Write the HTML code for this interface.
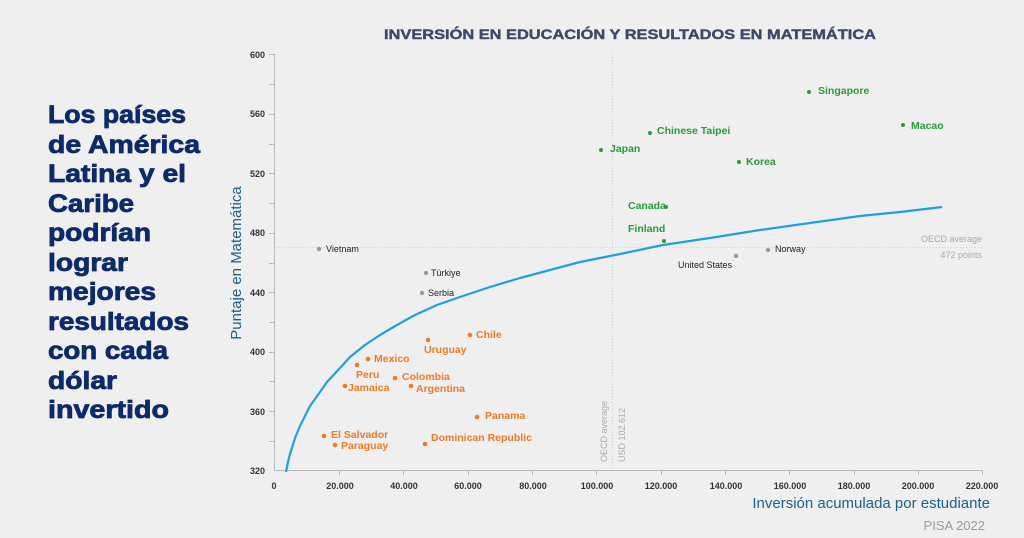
<!DOCTYPE html>
<html><head><meta charset="utf-8"><style>
html,body{margin:0;padding:0;background:#efefef;}
svg{display:block;font-family:"Liberation Sans",sans-serif;}
</style></head><body>
<svg width="1024" height="538" viewBox="0 0 1024 538" xmlns="http://www.w3.org/2000/svg">
<rect width="1024" height="538" fill="#efefef"/>
<g fill="#0d2a6b" font-weight="bold" font-size="25" stroke="#0d2a6b" stroke-width="0.8">
<text x="48" y="123" textLength="138" lengthAdjust="spacingAndGlyphs">Los países</text>
<text x="48" y="153" textLength="152" lengthAdjust="spacingAndGlyphs">de América</text>
<text x="48" y="182" textLength="138" lengthAdjust="spacingAndGlyphs">Latina y el</text>
<text x="48" y="212" textLength="86" lengthAdjust="spacingAndGlyphs">Caribe</text>
<text x="48" y="241" textLength="103" lengthAdjust="spacingAndGlyphs">podrían</text>
<text x="48" y="271" textLength="80" lengthAdjust="spacingAndGlyphs">lograr</text>
<text x="48" y="300" textLength="108" lengthAdjust="spacingAndGlyphs">mejores</text>
<text x="48" y="330" textLength="141" lengthAdjust="spacingAndGlyphs">resultados</text>
<text x="48" y="359" textLength="120" lengthAdjust="spacingAndGlyphs">con cada</text>
<text x="48" y="389" textLength="69" lengthAdjust="spacingAndGlyphs">dólar</text>
<text x="48" y="418" textLength="121" lengthAdjust="spacingAndGlyphs">invertido</text>
</g>
<text x="630" y="39" text-anchor="middle" font-size="14" font-weight="bold" fill="#3d4a66" stroke="#3d4a66" stroke-width="0.4" textLength="492" lengthAdjust="spacingAndGlyphs">INVERSIÓN EN EDUCACIÓN Y RESULTADOS EN MATEMÁTICA</text>
<text transform="translate(241,263) rotate(-90)" text-anchor="middle" font-size="15" fill="#1a6088">Puntaje en Matemática</text>
<text x="990" y="508" text-anchor="end" font-size="15" fill="#1a6088">Inversión acumulada por estudiante</text>
<text x="985" y="530" text-anchor="end" font-size="13" fill="#9a9a9a">PISA 2022</text>
<g stroke="#b8b8b8" stroke-width="1">
<line x1="274.5" y1="54" x2="274.5" y2="471"/>
<line x1="274" y1="470.5" x2="982" y2="470.5"/>
<line x1="269" y1="54.5" x2="275" y2="54.5"/><line x1="269" y1="84.5" x2="275" y2="84.5"/>
<line x1="269" y1="114.5" x2="275" y2="114.5"/><line x1="269" y1="144.5" x2="275" y2="144.5"/>
<line x1="269" y1="173.5" x2="275" y2="173.5"/><line x1="269" y1="203.5" x2="275" y2="203.5"/>
<line x1="269" y1="233.5" x2="275" y2="233.5"/><line x1="269" y1="263.5" x2="275" y2="263.5"/>
<line x1="269" y1="292.5" x2="275" y2="292.5"/><line x1="269" y1="322.5" x2="275" y2="322.5"/>
<line x1="269" y1="352.5" x2="275" y2="352.5"/><line x1="269" y1="381.5" x2="275" y2="381.5"/>
<line x1="269" y1="411.5" x2="275" y2="411.5"/><line x1="269" y1="441.5" x2="275" y2="441.5"/>
<line x1="339.5" y1="470" x2="339.5" y2="475"/><line x1="403.5" y1="470" x2="403.5" y2="475"/>
<line x1="468.5" y1="470" x2="468.5" y2="475"/><line x1="532.5" y1="470" x2="532.5" y2="475"/>
<line x1="596.5" y1="470" x2="596.5" y2="475"/><line x1="661.5" y1="470" x2="661.5" y2="475"/>
<line x1="725.5" y1="470" x2="725.5" y2="475"/><line x1="789.5" y1="470" x2="789.5" y2="475"/>
<line x1="854.5" y1="470" x2="854.5" y2="475"/><line x1="918.5" y1="470" x2="918.5" y2="475"/>
<line x1="982.5" y1="470" x2="982.5" y2="475"/>
</g>
<g font-size="9" fill="#333" text-anchor="end" font-weight="bold">
<text x="265" y="58">600</text><text x="265" y="117">560</text><text x="265" y="177">520</text>
<text x="265" y="236">480</text><text x="265" y="296">440</text><text x="265" y="355">400</text>
<text x="265" y="415">360</text><text x="265" y="474">320</text>
</g>
<g font-size="9" fill="#333" text-anchor="middle" font-weight="bold">
<text x="274" y="489">0</text><text x="340" y="489">20.000</text><text x="404" y="489">40.000</text>
<text x="468" y="489">60.000</text><text x="533" y="489">80.000</text><text x="597" y="489">100.000</text>
<text x="661" y="489">120.000</text><text x="726" y="489">140.000</text><text x="790" y="489">160.000</text>
<text x="854" y="489">180.000</text><text x="918" y="489">200.000</text><text x="982" y="489">220.000</text>
</g>
<g stroke="#cfcfcf" stroke-width="1" stroke-dasharray="1,2">
<line x1="276" y1="247.5" x2="982" y2="247.5"/>
<line x1="612.5" y1="54" x2="612.5" y2="470"/>
</g>
<g font-size="9" fill="#aaa">
<text x="982" y="242" text-anchor="end">OECD average</text>
<text x="982" y="258" text-anchor="end">472 points</text>
<text transform="translate(607,462) rotate(-90)">OECD average</text>
<text transform="translate(625,462) rotate(-90)">USD 102.612</text>
</g>
<polyline points="286,472 288,462 290,454 295,438 300,426 310,406 320,392 327,382 340,368 350,357 365,345 380,335 397,325 415,315 437,305 460,297 490,287 520,278 550,270 580,262 620,254 663,245 710,238 760,230 810,223 860,216 900,212 942,207" fill="none" stroke="#1fa0e0" stroke-width="2.2" stroke-linejoin="round"/>
<g fill="#999"><circle cx="319" cy="249" r="2.2"/><circle cx="426" cy="273" r="2.2"/><circle cx="422" cy="293" r="2.2"/><circle cx="736" cy="256" r="2.2"/><circle cx="768" cy="250" r="2.2"/></g>
<g font-size="9" fill="#222">
<text x="326" y="252">Vietnam</text><text x="431" y="276">Türkiye</text><text x="428" y="296">Serbia</text>
<text x="678" y="268">United States</text><text x="775" y="252">Norway</text>
</g>
<g fill="#2a9a3a"><circle cx="601" cy="150" r="2"/><circle cx="650" cy="133" r="2"/><circle cx="739" cy="162" r="2"/><circle cx="809" cy="92" r="2"/><circle cx="903" cy="125" r="2"/><circle cx="666" cy="207" r="2"/><circle cx="664" cy="241" r="2"/></g>
<g font-size="10.5" fill="#2a9a3a" font-weight="bold">
<text x="610" y="152">Japan</text><text x="657" y="134">Chinese Taipei</text><text x="746" y="165">Korea</text>
<text x="818" y="94">Singapore</text><text x="911" y="129">Macao</text><text x="628" y="209">Canada</text><text x="628" y="232">Finland</text>
</g>
<g fill="#f07a24"><circle cx="470" cy="335" r="2.3"/><circle cx="428" cy="340" r="2.3"/><circle cx="368" cy="359" r="2.3"/><circle cx="357" cy="365" r="2.3"/><circle cx="395" cy="378" r="2.3"/><circle cx="345" cy="386" r="2.3"/><circle cx="411" cy="386" r="2.3"/><circle cx="477" cy="417" r="2.3"/><circle cx="324" cy="436" r="2.3"/><circle cx="335" cy="445" r="2.3"/><circle cx="425" cy="444" r="2.3"/></g>
<g font-size="10.5" fill="#f07a24" font-weight="bold">
<text x="476" y="338">Chile</text><text x="424" y="353">Uruguay</text><text x="374" y="362">Mexico</text>
<text x="356" y="378">Peru</text><text x="402" y="380">Colombia</text><text x="348" y="391">Jamaica</text>
<text x="416" y="392">Argentina</text><text x="485" y="419">Panama</text><text x="331" y="438">El Salvador</text>
<text x="341" y="449">Paraguay</text><text x="431" y="441">Dominican Republic</text>
</g>
</svg>
</body></html>
